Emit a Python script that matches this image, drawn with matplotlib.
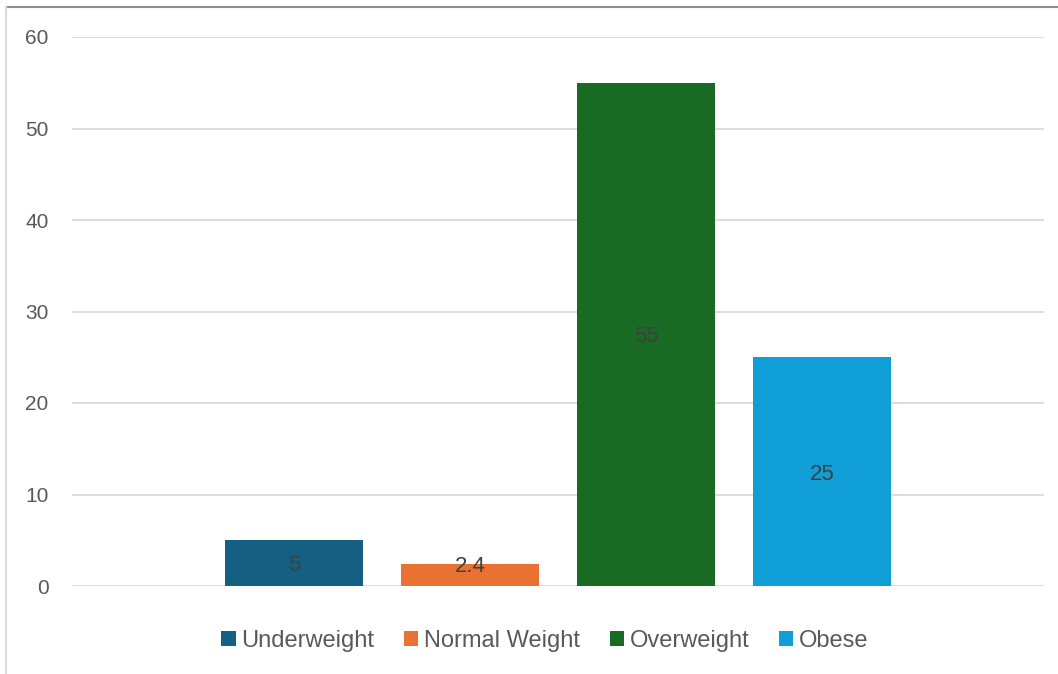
import numpy as np
import matplotlib.pyplot as plt
from matplotlib.lines import Line2D

categories = ['Underweight', 'Normal Weight', 'Overweight', 'Obese']
values = [5, 2.4, 55, 25]
colors = ['#156082', '#E97132', '#196B24', '#0F9ED5']
yticks = [0, 10, 20, 30, 40, 50, 60]

plt.rcParams['font.family'] = ['Liberation Sans', 'DejaVu Sans']
text_col = '#595959'

fig = plt.figure(figsize=(10.58, 6.74), dpi=100)
ax = fig.add_axes([72/1058, 88/674, 972/1058, 549/674])

spacing = 0.181
width = 0.142
for i, (cat, v, c) in enumerate(zip(categories, values, colors)):
    x = (i - 1.5) * spacing
    ax.bar(x, v, width=width, color=c, label=cat, zorder=2)
    ax.text(x, max(v / 2, 2.4), f'{v:g}', ha='center', va='center_baseline',
            fontsize=16, color='#404040', zorder=3)

ax.set_xlim(-0.5, 0.5)
ax.set_ylim(0, 60)
ax.set_yticks(yticks)
ax.set_xticks([])
ax.yaxis.grid(True, color='#D9D9D9', linewidth=1.3, zorder=0)
ax.tick_params(axis='y', length=0, pad=17, labelsize=15, labelcolor=text_col)
for s in ax.spines.values():
    s.set_visible(False)

leg = fig.legend(loc='center', bbox_to_anchor=(0.515, 1 - 641/674), ncol=4,
                 frameon=False, fontsize=17, handlelength=0.6, handleheight=0.6,
                 handletextpad=0.25, columnspacing=1.25)
for t in leg.get_texts():
    t.set_color(text_col)

# chart frame edges
fig.add_artist(Line2D([6/1058, 1], [1 - 7/674, 1 - 7/674], color='#8c8c8c', linewidth=1.5))
fig.add_artist(Line2D([6/1058, 6/1058], [0, 1 - 7/674], color='#D9D9D9', linewidth=1.5))

fig.savefig('out.png', dpi=100)
